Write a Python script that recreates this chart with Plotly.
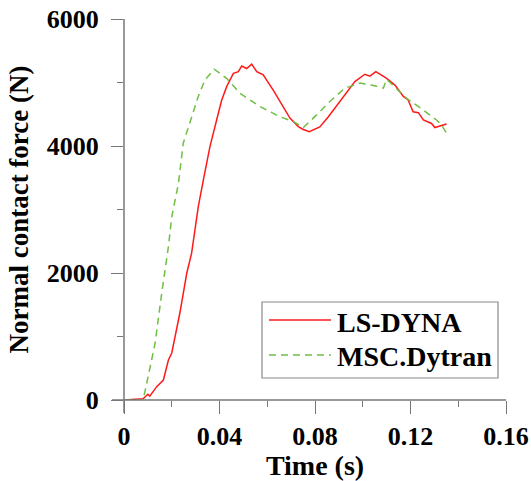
import plotly.graph_objects as go

# ---- data ----
ls_time = [0.0, 0.0046, 0.008, 0.010, 0.0108, 0.0137, 0.0165, 0.0186, 0.020, 0.0234, 0.0263,
           0.0283, 0.0311, 0.0332, 0.036, 0.0388, 0.0409, 0.043, 0.0458, 0.0479, 0.0493,
           0.0514, 0.0535, 0.0556, 0.0583, 0.0625, 0.066, 0.068, 0.0695, 0.073, 0.0751,
           0.0776, 0.080, 0.082, 0.0856, 0.0898, 0.0933, 0.0967, 0.1009, 0.103, 0.1055,
           0.1072, 0.110, 0.1135, 0.117, 0.119, 0.1211, 0.1233, 0.1254, 0.1288, 0.1302,
           0.1323, 0.1351]
ls_force = [0, 10, 20, 90, 60, 210, 315, 630, 740, 1370, 2000,
            2310, 3040, 3460, 3990, 4410, 4720, 4935, 5145, 5170, 5260,
            5220, 5290, 5170, 5120, 4880, 4650, 4515, 4440, 4305, 4260,
            4225, 4260, 4300, 4460, 4670, 4860, 5015, 5130, 5100, 5170,
            5130, 5065, 4960, 4780, 4725, 4540, 4525, 4410, 4355, 4290,
            4315, 4345]

msc_time = [0.0, 0.008, 0.0095, 0.013, 0.0158, 0.0186, 0.020, 0.0228, 0.0248, 0.0276,
            0.0311, 0.0339, 0.0378, 0.043, 0.0486, 0.057, 0.0653, 0.0709, 0.0751,
            0.0807, 0.0862, 0.0925, 0.0988, 0.1037, 0.1086, 0.110, 0.1149, 0.1184,
            0.1254, 0.1309, 0.133, 0.1351]
msc_force = [0, 0, 260, 890, 1680, 2415, 2885, 3410, 4040, 4360,
             4780, 5040, 5210, 5065, 4830, 4620, 4460, 4385, 4290,
             4490, 4700, 4910, 4990, 4960, 4910, 5050, 4880, 4750,
             4565, 4410, 4330, 4200]

series_names = ["LS-DYNA", "MSC.Dytran"]
x_ticks = [0, 0.04, 0.08, 0.12, 0.16]
x_tick_labels = ["0", "0.04", "0.08", "0.12", "0.16"]
y_ticks = [0, 2000, 4000, 6000]
y_tick_labels = ["0", "2000", "4000", "6000"]

RED = "#ff1a1a"
GREEN = "#6fbf45"
AXIS = "#777777"
FONT = "Liberation Serif, Times New Roman, serif"

fig = go.Figure()
fig.add_trace(go.Scatter(x=ls_time, y=ls_force, mode="lines", name=series_names[0],
                         line=dict(color=RED, width=1.5), showlegend=False))
fig.add_trace(go.Scatter(x=msc_time, y=msc_force, mode="lines", name=series_names[1],
                         line=dict(color=GREEN, width=1.5, dash="7px,5px"), showlegend=False))

# plot area in pixels
L, R, T, B = 124, 506, 19, 400
W, H = 531, 481
pw, ph = R - L, B - T


def px(x):
    return (x - L) / pw


def py(y):
    return (B - y) / ph


def bold(labels):
    return ["<b>%s</b>" % s for s in labels]


fig.update_layout(
    width=W, height=H,
    margin=dict(l=L, r=W - R, t=T, b=H - B, pad=0, autoexpand=False),
    paper_bgcolor="white", plot_bgcolor="white",
    font=dict(family=FONT, color="black"),
    xaxis=dict(range=[0, 0.16], showgrid=False, zeroline=False, showline=False,
               automargin=False,
               tickmode="array", tickvals=x_ticks, ticktext=bold(x_tick_labels),
               ticks="outside", ticklen=13, tickwidth=1, tickcolor=AXIS,
               ticklabelstandoff=0,
               minor=dict(ticks="outside", ticklen=6, tickwidth=1, tickcolor=AXIS,
                          tickvals=[0.02, 0.06, 0.10, 0.14]),
               tickfont=dict(family=FONT, size=26, color="black"),
               title=dict(text="<b>Time (s)</b>", font=dict(family=FONT, size=28),
                          standoff=0)),
    yaxis=dict(range=[0, 6000], showgrid=False, zeroline=False, showline=False,
               automargin=False,
               tickmode="array", tickvals=y_ticks, ticktext=bold(y_tick_labels),
               ticks="outside", ticklen=12, tickwidth=1, tickcolor=AXIS,
               ticklabelstandoff=7,
               minor=dict(ticks="outside", ticklen=6, tickwidth=1, tickcolor=AXIS,
                          tickvals=[1000, 3000, 5000]),
               tickfont=dict(family=FONT, size=26, color="black"),
               title=dict(text="<b>Normal contact force (N)</b>",
                          font=dict(family=FONT, size=27), standoff=10)),
    showlegend=False,
)

shapes = [
    # axis lines extended past the origin
    dict(type="line", xref="x domain", yref="y domain", x0=0, x1=0, y0=py(413), y1=1,
         line=dict(color=AXIS, width=1.5), layer="above"),
    dict(type="line", xref="x domain", yref="y domain", x0=px(112), x1=1, y0=0, y1=0,
         line=dict(color=AXIS, width=1.5), layer="above"),
    # legend box
    dict(type="rect", xref="x domain", yref="y domain", x0=px(262), x1=px(498),
         y0=py(378), y1=py(302), line=dict(color="#888888", width=1.2),
         fillcolor="white", layer="above"),
    dict(type="line", xref="x domain", yref="y domain", x0=px(269), x1=px(331),
         y0=py(320), y1=py(320), line=dict(color=RED, width=1.5), layer="above"),
    dict(type="line", xref="x domain", yref="y domain", x0=px(269), x1=px(331),
         y0=py(355), y1=py(355), line=dict(color=GREEN, width=1.5, dash="7px,5px"),
         layer="above"),
]
fig.update_layout(shapes=shapes)

annotations = [
    dict(xref="x domain", yref="y domain", x=px(335), y=py(322),
         text="<b>%s</b>" % series_names[0],
         showarrow=False, xanchor="left", yanchor="middle",
         font=dict(family=FONT, size=28, color="black")),
    dict(xref="x domain", yref="y domain", x=px(335), y=py(356),
         text="<b>%s</b>" % series_names[1],
         showarrow=False, xanchor="left", yanchor="middle",
         font=dict(family=FONT, size=28, color="black")),
]
fig.update_layout(annotations=annotations)

fig.write_html("out.html")
